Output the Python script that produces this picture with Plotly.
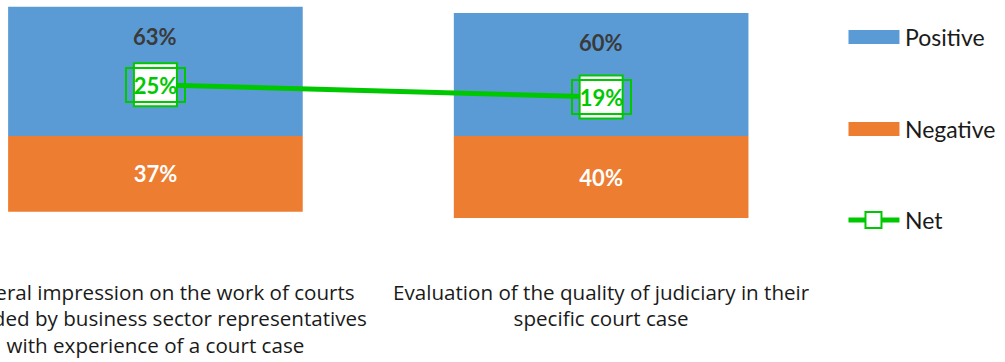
import plotly.graph_objects as go

# Survey results per question
categories = [
    "General impression on the work of courts<br>provided by business sector representatives<br>with experience of a court case",
    "Evaluation of the quality of judiciary in their<br>specific court case",
]
positive = [63, 60]
negative = [37, 40]
net = [25, 19]
series_names = ["Positive", "Negative", "Net"]

BLUE = "#5B9BD5"
ORANGE = "#ED7D31"
GREEN = "#00C800"
FONT = "Lato"
TICK_FONT = "Open Sans"

W, H = 1005, 362
ML, MR, MT, MB = 0, 180.5, 0, 84
PW, PH = W - ML - MR, H - MT - MB

x = list(range(len(categories)))
bar_w = 0.661

fig = go.Figure()
fig.add_bar(
    x=x, y=positive, width=bar_w, marker=dict(color=BLUE, line=dict(width=0)),
    name=series_names[0], showlegend=False, hoverinfo="skip",
)
fig.add_bar(
    x=x, y=[-v for v in negative], width=bar_w, marker=dict(color=ORANGE, line=dict(width=0)),
    name=series_names[1], showlegend=False, hoverinfo="skip",
    text=[f"{v}%" for v in negative], textposition="inside", insidetextanchor="middle",
    textangle=0, textfont=dict(color="white", size=22, family=FONT, weight="bold"),
)
fig.add_scatter(
    x=x, y=net, mode="lines+markers", name=series_names[2], showlegend=False,
    line=dict(color=GREEN, width=5),
    marker=dict(symbol="square", size=43, color="white", line=dict(color=GREEN, width=2)),
    hoverinfo="skip",
)

annotations = []
# positive share labels, placed in the upper part of each blue bar
for xi, v in zip(x, positive):
    annotations.append(dict(
        x=xi, y=v - 14.5, xref="x", yref="y", text=f"{v}%", showarrow=False,
        font=dict(color="#3a3a3a", size=22, family=FONT, weight="bold"),
    ))
# net labels in bordered boxes over the markers
for xi, v in zip(x, net):
    annotations.append(dict(
        x=xi, y=v, xref="x", yref="y", text=f"{v}%", showarrow=False,
        font=dict(color=GREEN, size=22, family=FONT, weight="bold"),
        bordercolor=GREEN, borderwidth=2, width=57, height=32, borderpad=0,
    ))


def px_x(p):
    return (p - ML) / PW


def px_y(p):
    return 1 - (p - MT) / PH


shapes = []
# legend: swatches
for (y0, y1), col in zip([(30, 44), (122, 136)], [BLUE, ORANGE]):
    shapes.append(dict(type="rect", xref="paper", yref="paper",
                       x0=px_x(849), x1=px_x(900), y0=px_y(y1), y1=px_y(y0),
                       fillcolor=col, line=dict(width=0)))
shapes.append(dict(type="line", xref="paper", yref="paper",
                   x0=px_x(849), x1=px_x(900), y0=px_y(220), y1=px_y(220),
                   line=dict(color=GREEN, width=5)))
shapes.append(dict(type="rect", xref="paper", yref="paper",
                   x0=px_x(866), x1=px_x(882), y0=px_y(228), y1=px_y(212),
                   fillcolor="white", line=dict(color=GREEN, width=2)))
for name, cy in zip(series_names, [37, 129, 220]):
    annotations.append(dict(
        x=px_x(904), y=px_y(cy), xref="paper", yref="paper", text=name,
        showarrow=False, xanchor="left", yanchor="middle",
        font=dict(color="#1a1a1a", size=23, family=FONT),
    ))

fig.update_layout(
    width=W, height=H, barmode="relative",
    margin=dict(l=ML, r=MR, t=MT, b=MB, autoexpand=False),
    paper_bgcolor="white", plot_bgcolor="white",
    xaxis=dict(
        range=[-0.3487, 1.5], tickvals=x, ticktext=categories,
        showgrid=False, zeroline=False, showline=False, ticks="",
        ticklabeloverflow="allow",
        tickfont=dict(size=20.6, family=TICK_FONT, color="#1a1a1a"), tickangle=0,
    ),
    yaxis=dict(range=[-69.27, 66.34], visible=False),
    annotations=annotations, shapes=shapes, showlegend=False,
)

fig.write_html("out.html")
